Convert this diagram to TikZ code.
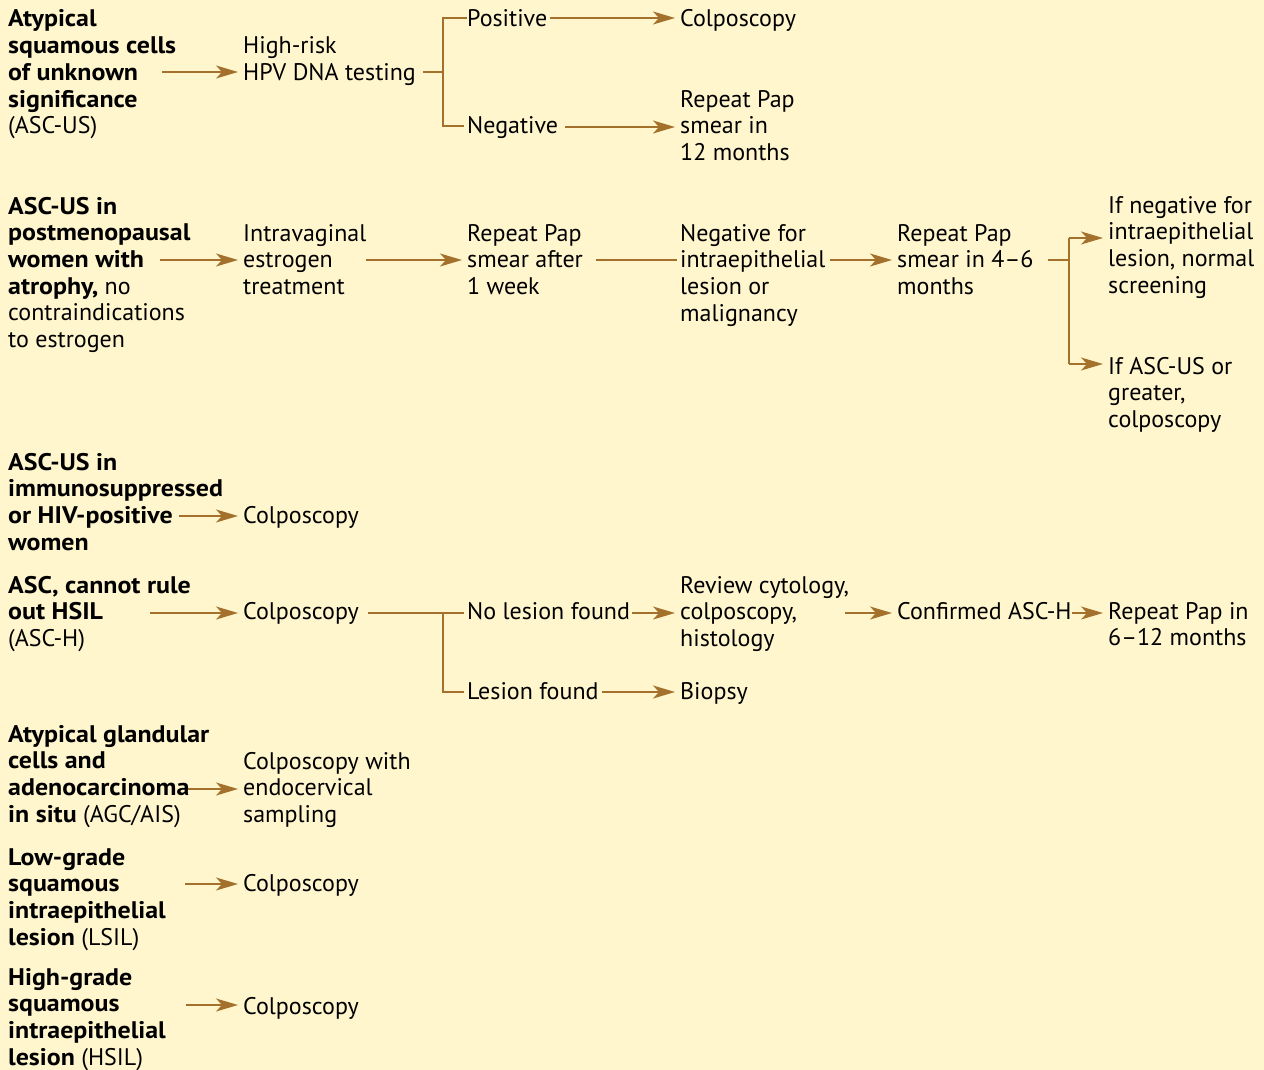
\documentclass[tikz,border=0pt]{standalone}
\usepackage{fontspec}
\setmainfont{PT Sans}[BoldFeatures={FakeStretch=1.08}]
\usepackage{xcolor}
\usepackage{tikz}
\usetikzlibrary{
  arrows.meta
}
\definecolor{paper}{RGB}{255,246,206}
\definecolor{rust}{RGB}{163,113,44}

\begin{document}
\begin{tikzpicture}[x=1pt, y=-1pt,
    every node/.style={inner sep=0pt, anchor=base west, align=left, font=\fontsize{24}{26.7}\selectfont},
    link/.style={draw=rust, line width=1.5pt},
    arrow/.style={link, -{Stealth[length=22pt, width=13pt, inset=6pt]}, shorten >=5pt},
    into/.style={link, shorten >=3pt}]
\fill[paper] (0,0) rectangle (1264,1070);
\useasboundingbox (0,0) rectangle (1264,1070);

% ASC-US (nodes sit on the baseline of their last line)
\node (ascus) at (8,133.8) {\textbf{Atypical}\\\textbf{squamous cells}\\\textbf{of unknown}\\\textbf{significance}\\(ASC-US)};
\node (hpv) at (243,80.7) {High-risk\\HPV DNA testing};
\node (pos) at (467,27) {Positive};
\node (colpoA) at (680,27) {Colposcopy};
\node (neg) at (467,134) {Negative};
\node (rep12) at (680,160.4) {Repeat Pap\\smear in\\12 months};

% postmenopausal
\node (post) at (8,347.5) {\textbf{ASC-US in}\\\textbf{postmenopausal}\\\textbf{women with}\\\textbf{atrophy,} no\\contraindications\\to estrogen};
\node (estro) at (243,294.4) {Intravaginal\\estrogen\\treatment};
\node (rep1w) at (467,294.4) {Repeat Pap\\smear after\\1 week};
\node (negfor) at (680,321.1) {Negative for\\intraepithelial\\lesion or\\malignancy};
\node (rep46) at (897,294.4) {Repeat Pap\\smear in 4--6\\months};
\node (ifneg) at (1108,293.1) {If negative for\\intraepithelial\\lesion, normal\\screening};
\node (ifasc) at (1108,427.4) {If ASC-US or\\greater,\\colposcopy};

% immunosuppressed
\node (immuno) at (8,550.1) {\textbf{ASC-US in}\\\textbf{immunosuppressed}\\\textbf{or HIV-positive}\\\textbf{women}};
\node (colpoC) at (243,523) {Colposcopy};

% ASC-H
\node (asch) at (8,646.4) {\textbf{ASC, cannot rule}\\\textbf{out HSIL}\\(ASC-H)};
\node (colpoD) at (243,619) {Colposcopy};
\node (nolesion) at (467,619) {No lesion found};
\node (review) at (680,646.4) {Review cytology,\\colposcopy,\\histology};
\node (confirmed) at (897,619) {Confirmed ASC-H};
\node (rep612) at (1108,645.7) {Repeat Pap in\\6--12 months};
\node (lesion) at (467,699) {Lesion found};
\node (biopsy) at (680,699) {Biopsy};

% AGC/AIS, LSIL, HSIL
\node (agc) at (8,822.1) {\textbf{Atypical glandular}\\\textbf{cells and}\\\textbf{adenocarcinoma}\\\textbf{in situ} (AGC/AIS)};
\node (colpoE) at (243,822.4) {Colposcopy with\\endocervical\\sampling};
\node (lsil) at (8,945.1) {\textbf{Low-grade}\\\textbf{squamous}\\\textbf{intraepithelial}\\\textbf{lesion} (LSIL)};
\node (colpoF) at (243,891) {Colposcopy};
\node (hsil) at (8,1065.1) {\textbf{High-grade}\\\textbf{squamous}\\\textbf{intraepithelial}\\\textbf{lesion} (HSIL)};
\node (colpoG) at (243,1014) {Colposcopy};

% tails and junctions
\coordinate (t1) at (162,72);
\coordinate (b1) at (423,72);
\coordinate (j1a) at (443,18);
\coordinate (j1b) at (443,126);
\coordinate (t2) at (550,18);
\coordinate (t3) at (565,127);
\coordinate (t4) at (160,260);
\coordinate (t5) at (366,260);
\coordinate (b2) at (596,260);
\coordinate (t6) at (830,260);
\coordinate (b3) at (1048,260);
\coordinate (j2a) at (1069,238);
\coordinate (j2b) at (1069,364);
\coordinate (t7) at (179,516);
\coordinate (t8) at (150,613);
\coordinate (b4) at (368,613);
\coordinate (j3) at (443,692);
\coordinate (t9) at (632,613);
\coordinate (t10) at (845,613);
\coordinate (t11) at (1072,613);
\coordinate (t12) at (602,692);
\coordinate (t13) at (188,789);
\coordinate (t14) at (185,884);
\coordinate (t15) at (186,1005);

\draw[arrow] (t1) -- (hpv.west |- t1);
\draw[link] (b1) -- (b1 -| j1a);
\draw[into] (pos.west |- j1a) -| (j1b) -- (neg.west |- j1b);
\draw[arrow] (t2) -- (colpoA.west |- t2);
\draw[arrow] (t3) -- (rep12.west |- t3);

\draw[arrow] (t4) -- (estro.west |- t4);
\draw[arrow] (t5) -- (rep1w.west |- t5);
\draw[into] (b2) -- (negfor.west |- b2);
\draw[arrow] (t6) -- (rep46.west |- t6);
\draw[link] (b3) -- (b3 -| j2a);
\draw[link] (j2a) -- (j2b);
\draw[arrow] (j2a) -- (ifneg.west |- j2a);
\draw[arrow] (j2b) -- (ifasc.west |- j2b);

\draw[arrow] (t7) -- (colpoC.west |- t7);

\draw[arrow] (t8) -- (colpoD.west |- t8);
\draw[into] (b4) -- (nolesion.west |- b4);
\draw[into] (b4 -| j3) -- (j3) -- (lesion.west |- j3);
\draw[arrow] (t9) -- (review.west |- t9);
\draw[arrow] (t10) -- (confirmed.west |- t10);
\draw[arrow] (t11) -- (rep612.west |- t11);
\draw[arrow] (t12) -- (biopsy.west |- t12);

\draw[arrow] (t13) -- (colpoE.west |- t13);
\draw[arrow] (t14) -- (colpoF.west |- t14);
\draw[arrow] (t15) -- (colpoG.west |- t15);
\end{tikzpicture}
\end{document}
